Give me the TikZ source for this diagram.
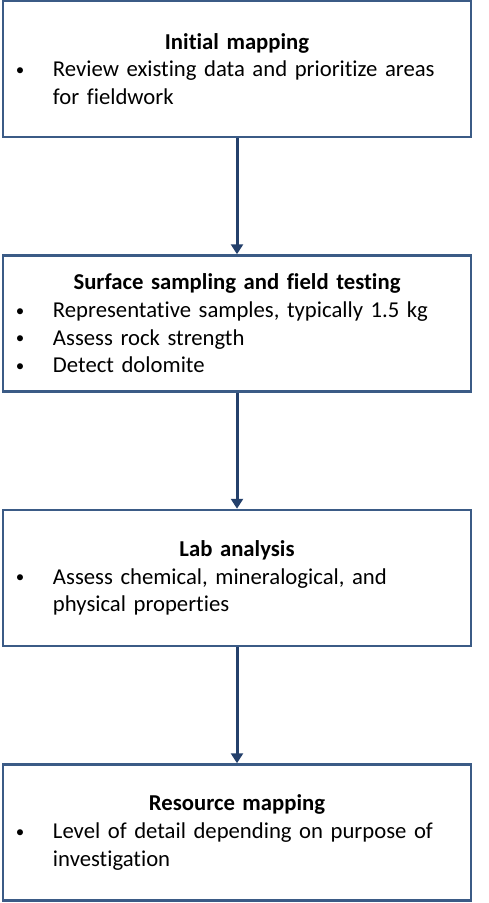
\documentclass[tikz,border=0pt]{standalone}
\usepackage{fontspec}
\setmainfont{Carlito}[Ligatures=NoCommon]
\usetikzlibrary{arrows.meta}
\definecolor{boxblue}{HTML}{3B5B86}
\definecolor{arrowblue}{HTML}{24406B}
\providecommand{\stepitem}[1]{\par\noindent\makebox[37pt][l]{\raisebox{1.5pt}{\fontsize{17pt}{17pt}\selectfont\textbullet}}\parbox[t]{405pt}{#1}}

\begin{document}
\begin{tikzpicture}[x=1pt,y=1pt]
    \pgfmathsetmacro{\boxwidth}{468}
    \pgfmathsetmacro{\boxheight}{136}
    \pgfmathsetmacro{\boxgap}{254.5}  % centre to centre
    \pgfmathsetmacro{\boxx}{237}
    \pgfmathsetmacro{\boxtop}{-69}
    \providecommand{\stepfontsize}{\fontsize{22.7pt}{27.7pt}\selectfont}
    \tikzset{
      stepbox/.style={draw=boxblue,line width=2.5pt,minimum width=\boxwidth pt,minimum height=\boxheight pt,
        text width=442pt,inner xsep=13pt,inner ysep=0pt,font=\stepfontsize},
      steparrow/.style={draw=arrowblue,line width=3pt,-{Triangle[width=12pt,length=10pt]}}
    }
    \useasboundingbox (0,0) rectangle (488,-903);
    \node[stepbox](init) at (\boxx,\boxtop)
    {{\centering\textbf{Initial mapping}\par}
     \stepitem{Review existing data and prioritize areas\\for fieldwork}};
    \node[stepbox](surf) at (\boxx,\boxtop-\boxgap)
    {{\centering\textbf{Surface sampling and field testing}\par}
     \stepitem{Representative samples, typically 1.5 kg}
     \stepitem{Assess rock strength}
     \stepitem{Detect dolomite}};
    \node[stepbox](lab) at (\boxx,\boxtop-2*\boxgap)
    {{\centering\textbf{Lab analysis}\par}
     \stepitem{Assess chemical, mineralogical, and\\physical properties}};
    \node[stepbox](res) at (\boxx,\boxtop-3*\boxgap)
    {{\centering\textbf{Resource mapping}\par}
     \stepitem{Level of detail depending on purpose of\\investigation}};
    \draw[steparrow] (init) -- (surf);
    \draw[steparrow] (surf) -- (lab);
    \draw[steparrow] (lab) -- (res);
\end{tikzpicture}
\end{document}
